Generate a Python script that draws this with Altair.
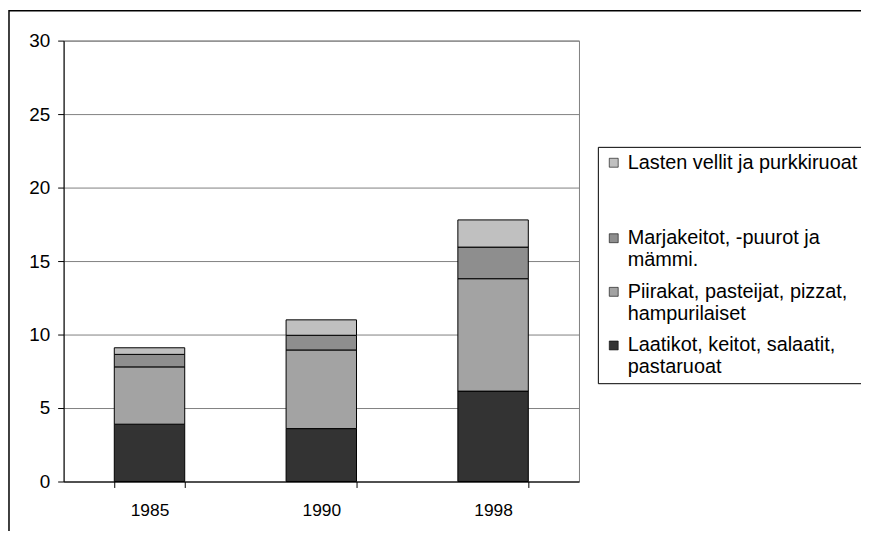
import altair as alt
import pandas as pd

years = ["1985", "1990", "1998"]
series = [
    "Laatikot, keitot, salaatit,|pastaruoat",
    "Piirakat, pasteijat, pizzat,|hampurilaiset",
    "Marjakeitot, -puurot ja|mämmi.",
    "Lasten vellit ja purkkiruoat\u00a0\u00a0\u00a0\u00a0| | ",
]
laatikot = [3.9, 3.6, 6.15]
piirakat = [3.9, 5.35, 7.65]
marjakeitot = [0.85, 1.0, 2.15]
lasten = [0.45, 1.05, 1.85]
colors = ["#333333", "#a3a3a3", "#8e8e8e", "#c0c0c0"]

rows = []
for i, (s, vals) in enumerate(zip(series, [laatikot, piirakat, marjakeitot, lasten])):
    for y, v in zip(years, vals):
        rows.append({"year": y, "series": s, "value": v, "order": i})
df = pd.DataFrame(rows)

FONT = "Liberation Sans"

legend_domain = list(reversed(series))
legend_range = list(reversed(colors))

bars = alt.Chart(df).mark_bar(stroke="black", strokeWidth=1).encode(
    x=alt.X(
        "year:N",
        scale=alt.Scale(paddingInner=0.59, paddingOuter=0.295),
        axis=alt.Axis(
            title=None, labelAngle=0, tickBand="extent", domainColor="black",
            tickColor="black", tickSize=6, labelPadding=14, labelFontSize=17.5,
            labelFont=FONT, labelColor="black",
        ),
    ),
    y=alt.Y(
        "value:Q",
        stack="zero",
        scale=alt.Scale(domain=[0, 30], nice=False),
        axis=alt.Axis(
            title=None, values=[0, 5, 10, 15, 20, 25, 30], grid=True,
            gridColor="#808080", gridWidth=1, domainColor="black",
            tickColor="black", tickSize=6, labelPadding=8, labelFontSize=19,
            labelFont=FONT, labelColor="black",
        ),
    ),
    color=alt.Color(
        "series:N",
        scale=alt.Scale(domain=legend_domain, range=legend_range),
        legend=alt.Legend(
            title=None, orient="none", legendX=538, legendY=107,
            strokeColor="black", fillColor="white", padding=6,
            labelFontSize=20, labelFont=FONT, labelColor="black",
            labelLimit=0, symbolType="square", symbolSize=81,
            symbolStrokeColor="black", symbolStrokeWidth=0.6,
            symbolOpacity=1, rowPadding=12, labelOffset=4,
            labelExpr="split(datum.label, '|')",
        ),
    ),
    order=alt.Order("order:Q"),
)

frame = alt.Chart(pd.DataFrame({"a": [0]})).mark_rect(
    fill="transparent", stroke="black", strokeWidth=1.5
).encode(
    x=alt.value(-55), x2=alt.value(900), y=alt.value(-30), y2=alt.value(700)
)

chart = alt.layer(frame, bars).properties(
    width=519,
    height=444,
    padding={"left": 56, "top": 31, "right": 284, "bottom": 48},
    autosize=alt.AutoSizeParams(type="none"),
    background="white",
).configure_view(stroke="#808080", strokeWidth=1)

chart.save("out.html", embed_options={"renderer": "svg", "actions": False})
